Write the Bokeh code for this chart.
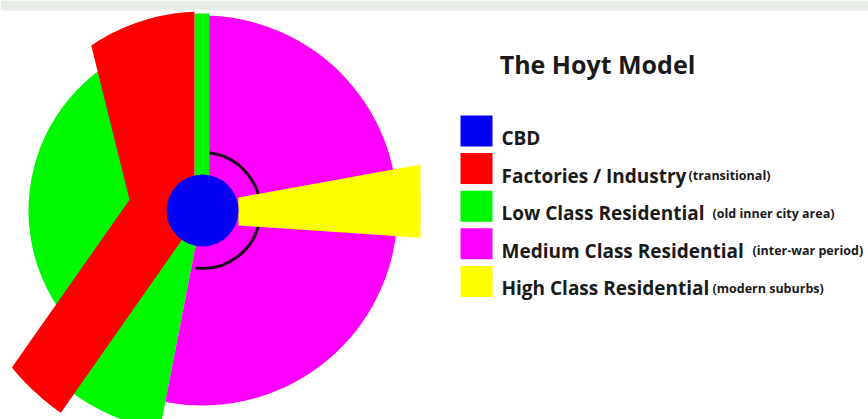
import numpy as np
from bokeh.plotting import figure
from bokeh.models import Range1d
from bokeh.core.properties import value
from bokeh.embed import file_html
from bokeh.resources import INLINE

# ---------------- data ----------------
chart_title = "The Hoyt Model"
zones = ["CBD", "Factories / Industry", "Low Class Residential",
         "Medium Class Residential", "High Class Residential"]
notes = ["", "(transitional)", "(old inner city area)",
         "(inter-war period)", "(modern suburbs)"]
zone_colors = ["#0400f4", "#ff0000", "#00f800", "#ff00ff", "#ffff00"]

# circular sectors around the CBD (degrees counter-clockwise from east, radius in px)
sector_zone = ["Low Class Residential", "Low Class Residential", "Medium Class Residential"]
sector_start = [118, 228, -101]
sector_end = [236, 259, 90]
sector_radius = [174, 224, 195]

cbd_radius = 36
ring_radius, ring_start, ring_end = 58, -97, 85

# narrow low-class strip along the northern axis (offsets from CBD centre)
strip_left, strip_right, strip_reach = -8, 7, 197

# factory / industry corridor
red_arm_angle, red_arm_width, red_arm_reach, red_knee_along = 235, 66, 247, 33
red_top_start, red_top_end, red_top_radius = 92.3, 124, 199

# high class wedge toward the east (polar vertices)
yellow_theta = [19.9, 11.9, -7.1, -22.6]
yellow_r = [38, 222.8, 219.7, 39]

# ---------------- layout ----------------
W, H = 868, 419
cx, cy = 202, H - 210          # CBD centre in data units (y up)
col = dict(zip(zones, zone_colors))


def pol(theta, r):
    t = np.radians(theta)
    return cx + r * np.cos(t), cy + r * np.sin(t)


p = figure(width=W, height=H, x_range=Range1d(0, W), y_range=Range1d(0, H),
           output_backend="svg", toolbar_location=None, min_border=0, title=None)
p.axis.visible = False
p.grid.visible = False
p.outline_line_color = None
p.background_fill_color = "white"
p.border_fill_color = "white"

# faint watermark band at the very top
p.quad(left=0, right=W, bottom=H - 10, top=H, fill_color="#e7eee6", line_color=None)

# sectors
p.wedge(x=[cx] * len(sector_zone), y=[cy] * len(sector_zone), radius=sector_radius,
        start_angle=sector_start, end_angle=sector_end, start_angle_units="deg",
        end_angle_units="deg", fill_color=[col[z] for z in sector_zone], line_color=None)

# ring (inner boundary)
p.arc(x=cx, y=cy, radius=ring_radius, start_angle=ring_start, end_angle=ring_end,
      start_angle_units="deg", end_angle_units="deg", line_color="#1c0c1c", line_width=3)

# northern strip
p.quad(left=cx + strip_left, right=cx + strip_right, bottom=cy, top=cy + strip_reach,
       fill_color=col["Low Class Residential"], line_color=None)

# factory corridor polygon
a = np.radians(red_arm_angle)
d = np.array([np.cos(a), np.sin(a)])
n = np.array([np.cos(a - np.pi / 2), np.sin(a - np.pi / 2)])
c = np.array([cx, cy])
xs, ys = [cx], [cy]
t_up = np.sqrt(red_arm_reach ** 2 - red_arm_width ** 2)
end_ang = red_arm_angle - np.degrees(np.arctan2(red_arm_width, t_up))
for th in np.linspace(red_arm_angle, end_ang, 24):
    px_, py_ = pol(th, red_arm_reach)
    xs.append(px_); ys.append(py_)
knee = c + red_arm_width * n + red_knee_along * d
xs.append(knee[0]); ys.append(knee[1])
for th in np.linspace(red_top_end, red_top_start, 24):
    px_, py_ = pol(th, red_top_radius)
    xs.append(px_); ys.append(py_)
xs.append(cx + strip_left); ys.append(cy)
p.patch(xs, ys, fill_color=col["Factories / Industry"], line_color=None)

# high class wedge
yx, yy = pol(np.array(yellow_theta), np.array(yellow_r))
p.patch(list(yx), list(yy), fill_color=col["High Class Residential"], line_color=None)

# CBD
p.circle(x=cx, y=cy, radius=cbd_radius, fill_color=col["CBD"], line_color=None)

# ---------------- legend ----------------
FONT = value("Open Sans")
p.text(x=[597], y=[H - 63], text=[chart_title], text_font=FONT, text_font_style="bold",
       text_font_size="25px", text_align="center", text_baseline="alphabetic", text_color="#1a1a1a")

y0, step = 130.5, 37.6
ly = [H - (y0 + i * step) for i in range(len(zones))]
p.rect(x=[476] * len(zones), y=ly, width=32, height=31, fill_color=zone_colors, line_color=None)
p.text(x=[501] * len(zones), y=[v - 7 for v in ly], text=zones, text_font=FONT,
       text_font_style="bold", text_font_size="19px", text_baseline="alphabetic",
       text_color="#1a1a1a")
note_x = [0, 688, 712, 752, 712]
p.text(x=note_x[1:], y=[v - 7 for v in ly[1:]], text=notes[1:], text_font=FONT,
       text_font_style="bold", text_font_size="12.5px", text_baseline="alphabetic",
       text_color="#1a1a1a")

open("out.html", "w").write(file_html(p, INLINE))
